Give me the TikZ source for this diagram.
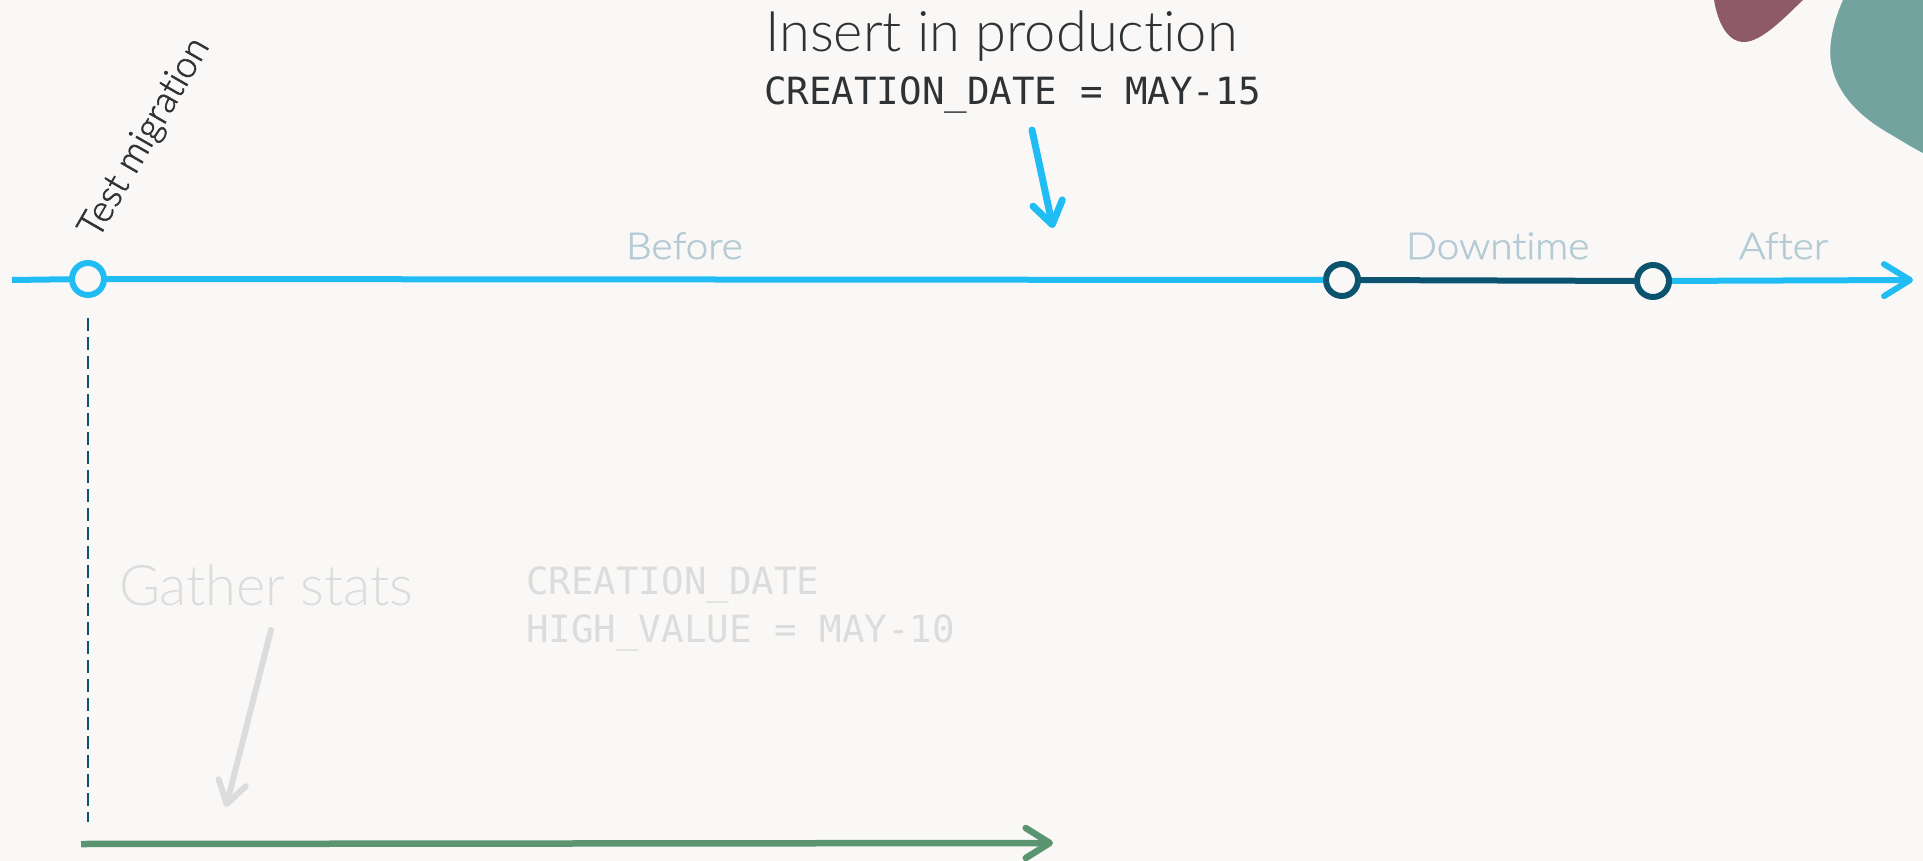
\documentclass[tikz,border=0pt]{standalone}
\usepackage{fontspec}
\usetikzlibrary{arrows.meta}

% Label faces: a light sans for headings, a slightly emboldened light for small labels
\IfFontExistsTF{Lato Light}{%
  \newfontfamily\labelfont{Lato Light}[Ligatures={NoCommon,NoRequired,NoContextual}]%
  \newfontfamily\smalllabelfont{Lato Light}[Ligatures={NoCommon,NoRequired,NoContextual},FakeBold=1.5]%
  \newfontfamily\phasefont{Lato Light}[Ligatures={NoCommon,NoRequired,NoContextual},FakeBold=1.5,FakeStretch=1.1]}{%
  \newfontfamily\labelfont{Lato}[Ligatures={NoCommon,NoRequired,NoContextual}]%
  \newfontfamily\smalllabelfont{Lato}[Ligatures={NoCommon,NoRequired,NoContextual}]%
  \newfontfamily\phasefont{Lato}[Ligatures={NoCommon,NoRequired,NoContextual},FakeStretch=1.1]}
\newfontfamily\codefont{DejaVu Sans Mono}

\definecolor{bgpaper}{HTML}{F9F8F6}
\definecolor{skyblue}{HTML}{20BDF5}
\definecolor{deepteal}{HTML}{0C5370}
\definecolor{sagegreen}{HTML}{5A9470}
\definecolor{inkgray}{HTML}{2E3234}
\definecolor{mistblue}{HTML}{B4CBD5}
\definecolor{fadegray}{HTML}{DCDCDC}
\definecolor{blobrose}{HTML}{8F5A68}
\definecolor{blobteal}{HTML}{73A39F}

\tikzset{
  barb/.style={-{Straight Barb[length=#1,width=32pt,line cap=round,line join=round]}},
  timeline/.style={line width=6pt, draw=skyblue},
  milestone/.style={circle, draw=#1, line width=6pt, fill=bgpaper,
    minimum size=32pt, inner sep=0pt},
  txt/.style={anchor=base west, inner sep=0pt, outer sep=0pt},
  bigsans/.style={txt, font=\labelfont\fontsize{56}{60}\selectfont},
  smallsans/.style={txt, font=\smalllabelfont\fontsize{37}{40}\selectfont},
  phasesans/.style={txt, text=mistblue, font=\phasefont\fontsize{37}{40}\selectfont},
  mono/.style={txt, font=\codefont\fontsize{37.5}{48}\selectfont},
}

\begin{document}
\begin{tikzpicture}[x=1pt,y=-1pt]
  \useasboundingbox (0,0) rectangle (1923,861);
  \fill[bgpaper] (0,0) rectangle (1923,861);

  % decorative blobs in the top right corner
  \fill[blobrose] (1714,0) .. controls (1718,24) and (1728,42) .. (1744,42)
    .. controls (1762,42) and (1786,16) .. (1803,0) -- cycle;
  \fill[blobteal] (1843,0) .. controls (1834,20) and (1828,45) .. (1831,62)
    .. controls (1836,95) and (1862,118) .. (1890,134)
    .. controls (1902,141) and (1913,148) .. (1923,153) -- (1923,0) -- cycle;

  % main timeline
  \coordinate (tstart) at (12,280);
  \coordinate (tend) at (1913,280);
  \node[milestone=skyblue] (tm) at (88,279) {};
  \node[milestone=deepteal] (dstart) at (1342,280) {};
  \node[milestone=deepteal] (dend) at (1653,281) {};

  \draw[timeline] (tstart) -- (tm);
  \draw[timeline] (tm) -- (dstart);
  \draw[line width=6pt, deepteal] (dstart) -- (dend);
  \draw[timeline, barb=26pt] (dend) -- (tend);

  % phase labels
  \node[phasesans] (lbefore) at (626,259) {Before};
  \node[phasesans] (ldown) at (1406,259) {Downtime};
  \node[phasesans] (lafter) at (1739,259) {After};
  \node[smallsans, text=inkgray, rotate=60] (ltest) at (98,240) {Test migration};

  % production insert
  \node[bigsans, text=inkgray] (ins) at (765,52) {Insert in production};
  \node[mono, text=inkgray] (insdate) at (764,105) {CREATION\_DATE = MAY-15};
  \coordinate (insA) at (1032,130);
  \coordinate (insB) at (1053,228);
  \draw[line width=7pt, skyblue, line cap=round,
    -{Straight Barb[length=22pt,width=30pt,line cap=round,line join=round]}] (insA) -- (insB);

  % test environment: dashed drop and statistics timeline
  \coordinate (dashbot) at (88,822);
  \draw[deepteal, line width=2pt, dash pattern=on 13pt off 6pt, shorten <=20pt] (tm) -- (dashbot);

  \coordinate (gstart) at (81,844);
  \coordinate (gend) at (1053,843);
  \draw[sagegreen, line width=6.5pt,
    -{Straight Barb[length=24pt,width=30pt,line cap=round,line join=round]}] (gstart) -- (gend);

  \node[bigsans, text=fadegray] (gather) at (119,605) {Gather stats};
  \node[mono, text=fadegray] (hv1) at (526,594) {CREATION\_DATE};
  \node[mono, text=fadegray] (hv2) at (526,642) {HIGH\_VALUE = MAY-10};
  \coordinate (gsA) at (271,630);
  \coordinate (gsB) at (226,807);
  \draw[fadegray, line width=6pt, line cap=round,
    -{Straight Barb[length=22pt,width=28pt,line cap=round,line join=round]}] (gsA) -- (gsB);
\end{tikzpicture}
\end{document}
